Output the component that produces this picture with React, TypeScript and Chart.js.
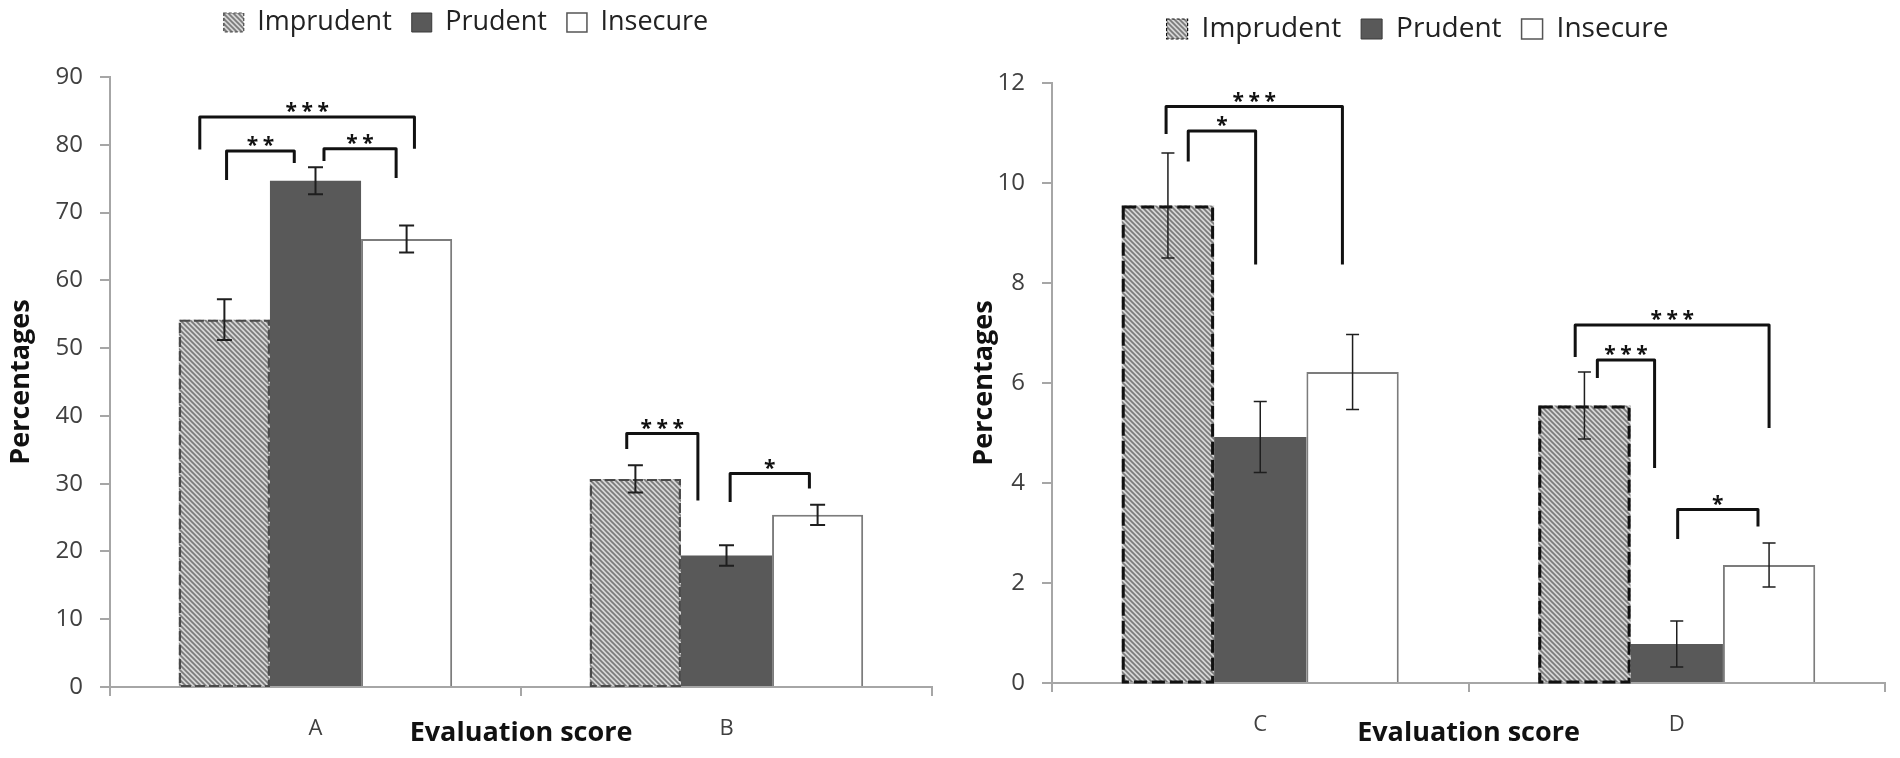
import React, { useEffect, useRef } from "react";
import { Chart, registerables } from "chart.js";
Chart.register(...registerables);

// ---------- data ----------
const seriesNames = ["Imprudent", "Prudent", "Insecure"];

const leftCategories = ["A", "B"];
const leftImprudent = [54.2, 30.7];
const leftPrudent = [74.7, 19.4];
const leftInsecure = [66.1, 25.4];
const leftImprudentErr = [3.0, 2.0];
const leftPrudentErr = [2.0, 1.5];
const leftInsecureErr = [2.0, 1.5];
const leftMax = 90;
const leftStep = 10;

const rightCategories = ["C", "D"];
const rightImprudent = [9.55, 5.55];
const rightPrudent = [4.92, 0.78];
const rightInsecure = [6.22, 2.36];
const rightImprudentErr = [1.05, 0.67];
const rightPrudentErr = [0.71, 0.46];
const rightInsecureErr = [0.75, 0.44];
const rightMax = 12;
const rightStep = 2;

const xTitle = "Evaluation score";
const yTitle = "Percentages";

// significance brackets: category, leg offsets (in bar widths from group centre), heights (data units), label
type Bracket = { cat: number; x1: number; x2: number; y: number; y1: number; y2: number; label: string };
const leftBrackets: Bracket[] = [
  { cat: 0, x1: -1.27, x2: 1.086, y: 84.1, y1: 79.3, y2: 79.4, label: "***" },
  { cat: 0, x1: -0.976, x2: -0.233, y: 79.1, y1: 74.8, y2: 77.3, label: "**" },
  { cat: 0, x1: 0.093, x2: 0.885, y: 79.4, y1: 77.6, y2: 75.1, label: "**" },
  { cat: 1, x1: -1.095, x2: -0.314, y: 37.4, y1: 35.1, y2: 27.5, label: "***" },
  { cat: 1, x1: 0.04, x2: 0.91, y: 31.5, y1: 27.3, y2: 29.3, label: "*" },
];
const rightBrackets: Bracket[] = [
  { cat: 0, x1: -1.02, x2: 0.89, y: 11.53, y1: 10.98, y2: 8.37, label: "***" },
  { cat: 0, x1: -0.78, x2: -0.05, y: 11.04, y1: 10.43, y2: 8.37, label: "*" },
  { cat: 1, x1: -1.1, x2: 1.0, y: 7.16, y1: 6.52, y2: 5.1, label: "***" },
  { cat: 1, x1: -0.86, x2: -0.24, y: 6.46, y1: 6.1, y2: 4.3, label: "***" },
  { cat: 1, x1: 0.01, x2: 0.88, y: 3.47, y1: 2.88, y2: 3.13, label: "*" },
];

// ---------- styling ----------
const FONT = "'Open Sans', 'Noto Sans', sans-serif";
const AXIS_COLOR = "#a6a6a6";

type Look = {
  yWidth: number;
  xHeight: number;
  padRight: number;
  padTop: number;
  legendHeight: number;
  legendFont: number;
  legendBox: number;
  yTitlePad: number;
  dashColor: string;
  dashWidth: number;
  dash: number[];
  errWidth: number;
  capHalf: number;
};

const leftLook: Look = {
  yWidth: 110, xHeight: 71, padRight: 18, padTop: -11, legendHeight: 88, legendFont: 27, legendBox: 20,
  yTitlePad: 5, dashColor: "#4a4a4a", dashWidth: 2.2, dash: [10, 4], errWidth: 2, capHalf: 7.5,
};
const rightLook: Look = {
  yWidth: 102, xHeight: 75, padRight: 15, padTop: -5, legendHeight: 88, legendFont: 28, legendBox: 21,
  yTitlePad: 18, dashColor: "#111111", dashWidth: 3, dash: [13, 5], errWidth: 1.5, capHalf: 6.5,
};

function makeHatch(): CanvasPattern | string {
  const s = 5;
  const c = document.createElement("canvas");
  c.width = s;
  c.height = s;
  const g = c.getContext("2d");
  if (!g) return "#aaaaaa";
  g.fillStyle = "#d6d6d6";
  g.fillRect(0, 0, s, s);
  g.strokeStyle = "#7a7a7a";
  g.lineWidth = 1.7;
  g.beginPath();
  g.moveTo(-1, -1); g.lineTo(s + 1, s + 1);
  g.moveTo(-1, s - 1); g.lineTo(1, s + 1);
  g.moveTo(s - 1, -1); g.lineTo(s + 1, 1);
  g.stroke();
  return g.createPattern(c, "repeat") || "#aaaaaa";
}

type PanelCfg = {
  categories: string[];
  values: number[][];
  errors: number[][];
  max: number;
  step: number;
  brackets: Bracket[];
  look: Look;
};

function buildConfig(cfg: PanelCfg): any {
  const hatch = makeHatch();
  const { look } = cfg;
  const fills: any[] = [hatch, "#595959", "#ffffff"];
  const legendStroke = [look.dashColor, "#3a3a3a", "#555555"];
  const legendWidth = [1.2, 1, 1.5];
  const legendDash = [[3, 2], [], []];

  const overlay = {
    id: "overlay",
    beforeLayout(chart: any) {
      const lg = chart.legend;
      if (lg && !lg.__patched) {
        const orig = lg.fit;
        lg.fit = function () {
          orig.call(this);
          this.height = look.legendHeight;
        };
        lg.__patched = true;
      }
    },
    afterDatasetsDraw(chart: any) {
      const ctx = chart.ctx as CanvasRenderingContext2D;
      const ys = chart.scales.y;
      // dashed outline of the Imprudent bars
      const m0 = chart.getDatasetMeta(0);
      ctx.save();
      ctx.setLineDash(look.dash);
      ctx.strokeStyle = look.dashColor;
      ctx.lineWidth = look.dashWidth;
      const hw = look.dashWidth / 2;
      m0.data.forEach((el: any) => {
        const p = el.getProps(["x", "y", "base", "width"], true);
        ctx.strokeRect(p.x - p.width / 2 + hw, p.y + hw, p.width - 2 * hw, p.base - p.y - hw);
      });
      ctx.restore();

      // error bars
      ctx.save();
      ctx.strokeStyle = "#1e1e1e";
      ctx.lineWidth = look.errWidth;
      cfg.values.forEach((vals, di) => {
        const meta = chart.getDatasetMeta(di);
        vals.forEach((v, j) => {
          const e = cfg.errors[di][j];
          const x = meta.data[j].x;
          const t = ys.getPixelForValue(v + e);
          const b = ys.getPixelForValue(v - e);
          ctx.beginPath();
          ctx.moveTo(x, t); ctx.lineTo(x, b);
          ctx.moveTo(x - look.capHalf, t); ctx.lineTo(x + look.capHalf, t);
          ctx.moveTo(x - look.capHalf, b); ctx.lineTo(x + look.capHalf, b);
          ctx.stroke();
        });
      });
      ctx.restore();

      // significance brackets
      const mid = chart.getDatasetMeta(1);
      ctx.save();
      ctx.strokeStyle = "#111111";
      ctx.fillStyle = "#111111";
      ctx.lineWidth = 3;
      ctx.lineJoin = "round";
      ctx.font = `bold 21px ${FONT}`;
      ctx.textAlign = "center";
      ctx.textBaseline = "alphabetic";
      cfg.brackets.forEach((br) => {
        const el = mid.data[br.cat];
        const cx = el.x;
        const bw = el.width;
        const xa = cx + br.x1 * bw;
        const xb = cx + br.x2 * bw;
        const yp = ys.getPixelForValue(br.y);
        ctx.beginPath();
        ctx.moveTo(xa, ys.getPixelForValue(br.y1));
        ctx.lineTo(xa, yp);
        ctx.lineTo(xb, yp);
        ctx.lineTo(xb, ys.getPixelForValue(br.y2));
        ctx.stroke();
        const chars = br.label.split("");
        const mx = (xa + xb) / 2;
        chars.forEach((ch, k) => {
          ctx.fillText(ch, mx + (k - (chars.length - 1) / 2) * 16, yp + 1);
        });
      });
      ctx.restore();
    },
  };

  return {
    type: "bar",
    data: {
      labels: cfg.categories,
      datasets: cfg.values.map((vals, i) => ({
        label: seriesNames[i],
        data: vals,
        backgroundColor: fills[i],
        borderColor: i === 2 ? "#7c7c7c" : "#595959",
        borderWidth: i === 2 ? 2 : 0,
        borderSkipped: "start",
        categoryPercentage: 0.665,
        barPercentage: 1.0,
      })),
    },
    options: {
      animation: false,
      responsive: true,
      maintainAspectRatio: false,
      events: [],
      layout: { padding: { left: 0, right: look.padRight, top: look.padTop, bottom: 0 } },
      plugins: {
        tooltip: { enabled: false },
        legend: {
          display: true,
          position: "top",
          labels: {
            boxWidth: look.legendBox,
            boxHeight: look.legendBox - 1,
            padding: 20,
            color: "#222222",
            font: { family: FONT, size: look.legendFont },
            generateLabels: (chart: any) =>
              chart.data.datasets.map((ds: any, i: number) => ({
                text: ds.label,
                fillStyle: ds.backgroundColor,
                strokeStyle: legendStroke[i],
                lineWidth: legendWidth[i],
                lineDash: legendDash[i],
                hidden: false,
                datasetIndex: i,
                fontColor: "#222222",
              })),
          },
        },
      },
      scales: {
        x: {
          type: "category",
          offset: true,
          grid: { offset: true, drawOnChartArea: false, tickLength: 9, color: AXIS_COLOR, lineWidth: 2 },
          border: { color: AXIS_COLOR, width: 2 },
          ticks: { color: "#404040", font: { family: FONT, size: 22 }, padding: 20 },
          title: {
            display: true,
            text: xTitle,
            color: "#111111",
            font: { family: FONT, size: 27, weight: "bold" },
            padding: { top: 0, bottom: 8 },
          },
          afterFit: (s: any) => { s.height = look.xHeight; },
        },
        y: {
          min: 0,
          max: cfg.max,
          ticks: { stepSize: cfg.step, color: "#404040", font: { family: FONT, size: 24 }, padding: 17 },
          grid: { drawOnChartArea: false, tickLength: 10, color: AXIS_COLOR, lineWidth: 2 },
          border: { color: AXIS_COLOR, width: 2 },
          title: {
            display: true,
            text: yTitle,
            color: "#111111",
            font: { family: FONT, size: 27, weight: "bold" },
            padding: { top: look.yTitlePad, bottom: 0 },
          },
          afterFit: (s: any) => { s.width = look.yWidth; },
        },
      },
    },
    plugins: [overlay],
  };
}

function Panel({ cfg }: { cfg: PanelCfg }) {
  const ref = useRef<HTMLCanvasElement>(null);
  useEffect(() => {
    if (!ref.current) return;
    const chart = new Chart(ref.current, buildConfig(cfg));
    return () => chart.destroy();
  }, [cfg]);
  return (
    <div style={{ position: "relative", width: 950, height: 758 }}>
      <canvas ref={ref} />
    </div>
  );
}

const leftCfg: PanelCfg = {
  categories: leftCategories,
  values: [leftImprudent, leftPrudent, leftInsecure],
  errors: [leftImprudentErr, leftPrudentErr, leftInsecureErr],
  max: leftMax,
  step: leftStep,
  brackets: leftBrackets,
  look: leftLook,
};
const rightCfg: PanelCfg = {
  categories: rightCategories,
  values: [rightImprudent, rightPrudent, rightInsecure],
  errors: [rightImprudentErr, rightPrudentErr, rightInsecureErr],
  max: rightMax,
  step: rightStep,
  brackets: rightBrackets,
  look: rightLook,
};

export default function App() {
  return (
    <div
      style={{
        position: "fixed",
        left: 0,
        top: 0,
        width: 1900,
        height: 758,
        display: "flex",
        background: "#ffffff",
        overflow: "hidden",
      }}
    >
      <Panel cfg={leftCfg} />
      <Panel cfg={rightCfg} />
    </div>
  );
}
